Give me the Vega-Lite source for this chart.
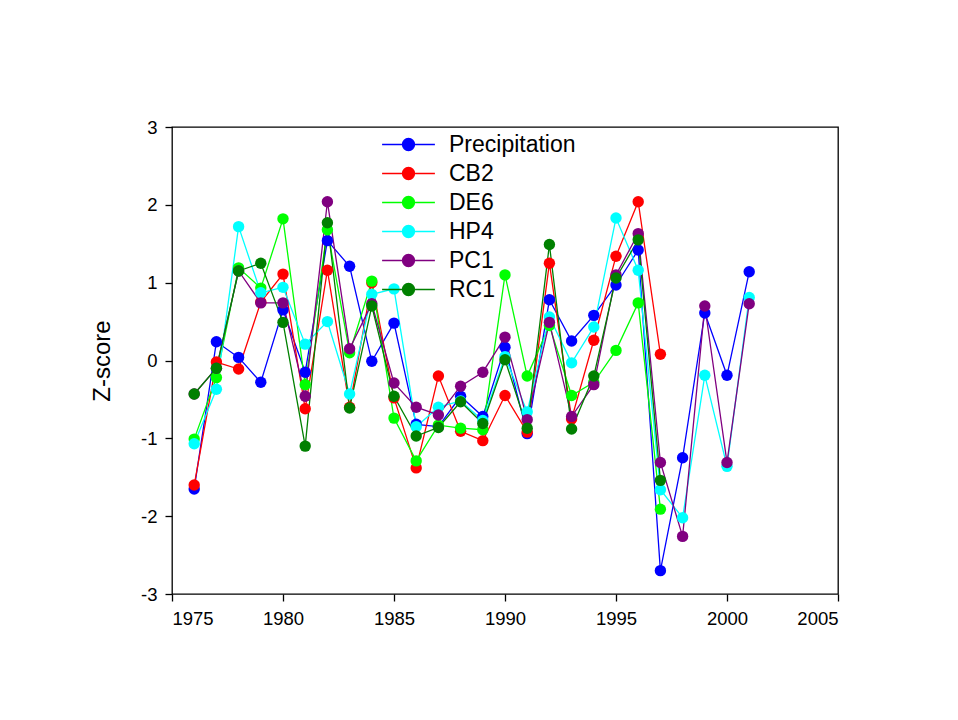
{
  "$schema": "https://vega.github.io/schema/vega-lite/v6.json",
  "width": 666,
  "height": 467,
  "autosize": {"type": "none"},
  "padding": {"left": 172, "top": 127, "right": 120, "bottom": 126},
  "background": "white",
  "config": {
    "font": "Liberation Sans",
    "view": {"stroke": "black", "strokeWidth": 1.3},
    "axis": {
      "grid": false,
      "domain": false,
      "ticks": true,
      "tickColor": "black",
      "tickSize": 7,
      "tickWidth": 1.3,
      "labelColor": "black",
      "labelFont": "Liberation Sans",
      "labelFontSize": 18.5,
      "labelPadding": 8,
      "titleColor": "black",
      "titleFont": "Liberation Sans",
      "titleFontWeight": "normal"
    }
  },
  "data": {
    "values": [
      {"series": "Precipitation", "year": 1976, "z": -1.65},
      {"series": "Precipitation", "year": 1977, "z": 0.24},
      {"series": "Precipitation", "year": 1978, "z": 0.04},
      {"series": "Precipitation", "year": 1979, "z": -0.28},
      {"series": "Precipitation", "year": 1980, "z": 0.65},
      {"series": "Precipitation", "year": 1981, "z": -0.15},
      {"series": "Precipitation", "year": 1982, "z": 1.54},
      {"series": "Precipitation", "year": 1983, "z": 1.21},
      {"series": "Precipitation", "year": 1984, "z": -0.01},
      {"series": "Precipitation", "year": 1985, "z": 0.48},
      {"series": "Precipitation", "year": 1986, "z": -0.82},
      {"series": "Precipitation", "year": 1987, "z": -0.85},
      {"series": "Precipitation", "year": 1988, "z": -0.46},
      {"series": "Precipitation", "year": 1989, "z": -0.72},
      {"series": "Precipitation", "year": 1990, "z": 0.17},
      {"series": "Precipitation", "year": 1991, "z": -0.94},
      {"series": "Precipitation", "year": 1992, "z": 0.78},
      {"series": "Precipitation", "year": 1993, "z": 0.25},
      {"series": "Precipitation", "year": 1994, "z": 0.58},
      {"series": "Precipitation", "year": 1995, "z": 0.97},
      {"series": "Precipitation", "year": 1996, "z": 1.42},
      {"series": "Precipitation", "year": 1997, "z": -2.70},
      {"series": "Precipitation", "year": 1998, "z": -1.25},
      {"series": "Precipitation", "year": 1999, "z": 0.61},
      {"series": "Precipitation", "year": 2000, "z": -0.19},
      {"series": "Precipitation", "year": 2001, "z": 1.14},

      {"series": "CB2", "year": 1976, "z": -1.60},
      {"series": "CB2", "year": 1977, "z": -0.02},
      {"series": "CB2", "year": 1978, "z": -0.11},
      {"series": "CB2", "year": 1979, "z": 0.75},
      {"series": "CB2", "year": 1980, "z": 1.11},
      {"series": "CB2", "year": 1981, "z": -0.62},
      {"series": "CB2", "year": 1982, "z": 1.16},
      {"series": "CB2", "year": 1983, "z": -0.60},
      {"series": "CB2", "year": 1984, "z": 1.00},
      {"series": "CB2", "year": 1985, "z": -0.48},
      {"series": "CB2", "year": 1986, "z": -1.38},
      {"series": "CB2", "year": 1987, "z": -0.20},
      {"series": "CB2", "year": 1988, "z": -0.91},
      {"series": "CB2", "year": 1989, "z": -1.03},
      {"series": "CB2", "year": 1990, "z": -0.45},
      {"series": "CB2", "year": 1991, "z": -0.92},
      {"series": "CB2", "year": 1992, "z": 1.25},
      {"series": "CB2", "year": 1993, "z": -0.75},
      {"series": "CB2", "year": 1994, "z": 0.26},
      {"series": "CB2", "year": 1995, "z": 1.34},
      {"series": "CB2", "year": 1996, "z": 2.04},
      {"series": "CB2", "year": 1997, "z": 0.08},

      {"series": "DE6", "year": 1976, "z": -1.01},
      {"series": "DE6", "year": 1977, "z": -0.22},
      {"series": "DE6", "year": 1978, "z": 1.19},
      {"series": "DE6", "year": 1979, "z": 0.93},
      {"series": "DE6", "year": 1980, "z": 1.82},
      {"series": "DE6", "year": 1981, "z": -0.31},
      {"series": "DE6", "year": 1982, "z": 1.68},
      {"series": "DE6", "year": 1983, "z": 0.10},
      {"series": "DE6", "year": 1984, "z": 1.02},
      {"series": "DE6", "year": 1985, "z": -0.74},
      {"series": "DE6", "year": 1986, "z": -1.29},
      {"series": "DE6", "year": 1987, "z": -0.83},
      {"series": "DE6", "year": 1988, "z": -0.87},
      {"series": "DE6", "year": 1989, "z": -0.89},
      {"series": "DE6", "year": 1990, "z": 1.10},
      {"series": "DE6", "year": 1991, "z": -0.20},
      {"series": "DE6", "year": 1992, "z": 0.45},
      {"series": "DE6", "year": 1993, "z": -0.45},
      {"series": "DE6", "year": 1994, "z": -0.28},
      {"series": "DE6", "year": 1995, "z": 0.13},
      {"series": "DE6", "year": 1996, "z": 0.74},
      {"series": "DE6", "year": 1997, "z": -1.91},

      {"series": "HP4", "year": 1976, "z": -1.07},
      {"series": "HP4", "year": 1977, "z": -0.37},
      {"series": "HP4", "year": 1978, "z": 1.72},
      {"series": "HP4", "year": 1979, "z": 0.87},
      {"series": "HP4", "year": 1980, "z": 0.94},
      {"series": "HP4", "year": 1981, "z": 0.21},
      {"series": "HP4", "year": 1982, "z": 0.50},
      {"series": "HP4", "year": 1983, "z": -0.43},
      {"series": "HP4", "year": 1984, "z": 0.85},
      {"series": "HP4", "year": 1985, "z": 0.92},
      {"series": "HP4", "year": 1986, "z": -0.85},
      {"series": "HP4", "year": 1987, "z": -0.60},
      {"series": "HP4", "year": 1988, "z": -0.52},
      {"series": "HP4", "year": 1989, "z": -0.77},
      {"series": "HP4", "year": 1990, "z": 0.05},
      {"series": "HP4", "year": 1991, "z": -0.66},
      {"series": "HP4", "year": 1992, "z": 0.56},
      {"series": "HP4", "year": 1993, "z": -0.03},
      {"series": "HP4", "year": 1994, "z": 0.43},
      {"series": "HP4", "year": 1995, "z": 1.83},
      {"series": "HP4", "year": 1996, "z": 1.16},
      {"series": "HP4", "year": 1997, "z": -1.66},
      {"series": "HP4", "year": 1998, "z": -2.02},
      {"series": "HP4", "year": 1999, "z": -0.19},
      {"series": "HP4", "year": 2000, "z": -1.36},
      {"series": "HP4", "year": 2001, "z": 0.81},

      {"series": "PC1", "year": 1976, "z": -0.43},
      {"series": "PC1", "year": 1977, "z": -0.10},
      {"series": "PC1", "year": 1978, "z": 1.15},
      {"series": "PC1", "year": 1979, "z": 0.74},
      {"series": "PC1", "year": 1980, "z": 0.74},
      {"series": "PC1", "year": 1981, "z": -0.46},
      {"series": "PC1", "year": 1982, "z": 2.04},
      {"series": "PC1", "year": 1983, "z": 0.15},
      {"series": "PC1", "year": 1984, "z": 0.73},
      {"series": "PC1", "year": 1985, "z": -0.29},
      {"series": "PC1", "year": 1986, "z": -0.60},
      {"series": "PC1", "year": 1987, "z": -0.70},
      {"series": "PC1", "year": 1988, "z": -0.33},
      {"series": "PC1", "year": 1989, "z": -0.15},
      {"series": "PC1", "year": 1990, "z": 0.30},
      {"series": "PC1", "year": 1991, "z": -0.76},
      {"series": "PC1", "year": 1992, "z": 0.49},
      {"series": "PC1", "year": 1993, "z": -0.72},
      {"series": "PC1", "year": 1994, "z": -0.31},
      {"series": "PC1", "year": 1995, "z": 1.10},
      {"series": "PC1", "year": 1996, "z": 1.63},
      {"series": "PC1", "year": 1997, "z": -1.31},
      {"series": "PC1", "year": 1998, "z": -2.26},
      {"series": "PC1", "year": 1999, "z": 0.70},
      {"series": "PC1", "year": 2000, "z": -1.31},
      {"series": "PC1", "year": 2001, "z": 0.73},

      {"series": "RC1", "year": 1976, "z": -0.43},
      {"series": "RC1", "year": 1977, "z": -0.10},
      {"series": "RC1", "year": 1978, "z": 1.15},
      {"series": "RC1", "year": 1979, "z": 1.25},
      {"series": "RC1", "year": 1980, "z": 0.49},
      {"series": "RC1", "year": 1981, "z": -1.10},
      {"series": "RC1", "year": 1982, "z": 1.77},
      {"series": "RC1", "year": 1983, "z": -0.61},
      {"series": "RC1", "year": 1984, "z": 0.70},
      {"series": "RC1", "year": 1985, "z": -0.46},
      {"series": "RC1", "year": 1986, "z": -0.97},
      {"series": "RC1", "year": 1987, "z": -0.86},
      {"series": "RC1", "year": 1988, "z": -0.53},
      {"series": "RC1", "year": 1989, "z": -0.81},
      {"series": "RC1", "year": 1990, "z": 0.01},
      {"series": "RC1", "year": 1991, "z": -0.87},
      {"series": "RC1", "year": 1992, "z": 1.49},
      {"series": "RC1", "year": 1993, "z": -0.88},
      {"series": "RC1", "year": 1994, "z": -0.20},
      {"series": "RC1", "year": 1995, "z": 1.06},
      {"series": "RC1", "year": 1996, "z": 1.55},
      {"series": "RC1", "year": 1997, "z": -1.54}
    ]
  },
  "encoding": {
    "x": {
      "field": "year",
      "type": "quantitative",
      "scale": {"domain": [1975, 2005], "nice": false, "zero": false},
      "axis": {"values": [1975, 1980, 1985, 1990, 1995, 2000, 2005], "format": "d", "title": null}
    },
    "y": {
      "field": "z",
      "type": "quantitative",
      "scale": {"domain": [-3, 3], "nice": false},
      "axis": {
        "values": [-3, -2, -1, 0, 1, 2, 3],
        "labelExpr": "replace(format(datum.value, 'd'), '\u2212', '-')",
        "title": "Z-score",
        "titleFontSize": 24,
        "titlePadding": 26
      }
    },
    "color": {
      "field": "series",
      "type": "nominal",
      "sort": ["Precipitation", "CB2", "DE6", "HP4", "PC1", "RC1"],
      "scale": {
        "domain": ["Precipitation", "CB2", "DE6", "HP4", "PC1", "RC1"],
        "range": ["#0000ff", "#ff0000", "#00ff00", "#00ffff", "#800080", "#008000"]
      },
      "legend": {
        "title": null,
        "orient": "none",
        "legendX": 225,
        "legendY": 6,
        "padding": 0,
        "symbolType": "M-4.4,0L4.4,0M-1,0A1,1,0,1,1,1,0A1,1,0,1,1,-1,0Z",
        "symbolSize": 144,
        "symbolStrokeWidth": 1.3,
        "labelFontSize": 23,
        "labelFont": "Liberation Sans",
        "labelColor": "black",
        "labelOffset": 29,
        "rowPadding": 5,
        "encode": {
          "symbols": {
            "update": {
              "fill": {"scale": "color", "field": "value"},
              "stroke": {"scale": "color", "field": "value"},
              "opacity": {"value": 1},
              "fillOpacity": {"value": 1}
            }
          }
        }
      }
    }
  },
  "layer": [
    {"mark": {"type": "line", "strokeWidth": 1.3}},
    {"mark": {"type": "point", "shape": "circle", "filled": true, "opacity": 1, "size": 130}}
  ]
}
